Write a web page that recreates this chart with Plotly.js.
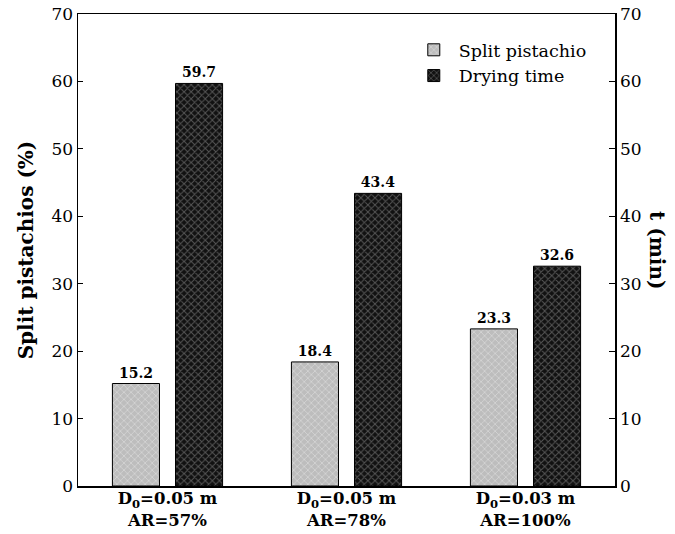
<!DOCTYPE html>
<html>
<head>
<meta charset="utf-8">
<script src="https://cdn.plot.ly/plotly-3.0.1.min.js"></script>
<style>html,body{margin:0;padding:0;background:#fff;}#chart{width:675px;height:534px;}</style>
</head>
<body>
<div id="chart"></div>
<script>
var categories = ["D<sub>0</sub>=0.05 m<br>AR=57%", "D<sub>0</sub>=0.05 m<br>AR=78%", "D<sub>0</sub>=0.03 m<br>AR=100%"];
var splitPistachio = [15.2, 18.4, 23.3];
var dryingTime = [59.7, 43.4, 32.6];
var tickVals = [0, 10, 20, 30, 40, 50, 60, 70];

var FONT = "DejaVu Serif, Liberation Serif, serif";

var traces = [
  {
    type: "bar", name: "Split pistachio", x: categories, y: splitPistachio,
    yaxis: "y", offsetgroup: "1",
    text: splitPistachio.map(function(v){return v.toFixed(1);}),
    textposition: "outside", cliponaxis: false,
    textfont: {family: FONT, size: 14, color: "#000", weight: "bold"},
    marker: {color: "#c4c4c4", line: {color: "#000", width: 1},
      pattern: {shape: "x", bgcolor: "#bdbdbd", fgcolor: "#ededed", size: 5, solidity: 0.3, fillmode: "overlay"}}
  },
  {
    type: "bar", name: "Drying time", x: categories, y: dryingTime,
    yaxis: "y2", offsetgroup: "2",
    text: dryingTime.map(function(v){return v.toFixed(1);}),
    textposition: "outside", cliponaxis: false,
    textfont: {family: FONT, size: 14, color: "#000", weight: "bold"},
    marker: {color: "#1a1a1a", line: {color: "#000", width: 1},
      pattern: {shape: "x", bgcolor: "#111", fgcolor: "#9a9a9a", size: 5, solidity: 0.35, fillmode: "overlay"}}
  }
];

var layout = {
  width: 675, height: 534,
  margin: {l: 78, r: 60, t: 14, b: 48},
  paper_bgcolor: "#fff", plot_bgcolor: "#fff",
  font: {family: FONT, size: 16, color: "#000"},
  barmode: "group", bargap: 0.295, bargroupgap: 0.254,
  showlegend: true,
  legend: {x: 0.616, y: 0.962, xanchor: "left", yanchor: "top", bgcolor: "rgba(0,0,0,0)",
    font: {family: FONT, size: 17.5, color: "#000"}, tracegroupgap: 0, itemwidth: 40},
  xaxis: {
    showline: true, linecolor: "#000", linewidth: 1.5, mirror: true,
    ticks: "", showgrid: false, zeroline: false, ticklabelstandoff: -3,
    tickfont: {family: FONT, size: 16.5, color: "#000", weight: "bold"}
  },
  yaxis: {
    range: [0, 70], tickvals: tickVals, showline: true, linecolor: "#000", linewidth: 1.5,
    ticks: "inside", ticklen: 5, tickcolor: "#000", showgrid: false, zeroline: false,
    tickfont: {family: FONT, size: 17, color: "#000"},
    title: {text: "Split pistachios (%)", font: {family: FONT, size: 20, color: "#000", weight: "bold"}, standoff: 12}
  },
  yaxis2: {
    range: [0, 70], tickvals: tickVals, overlaying: "y", side: "right",
    showline: true, linecolor: "#000", linewidth: 1.5,
    ticks: "inside", ticklen: 6, tickcolor: "#000", showgrid: false, zeroline: false,
    tickfont: {family: FONT, size: 17, color: "#000"}
  },
  annotations: [{
    text: "t (min)", xref: "paper", yref: "paper", x: 1.0, y: 0.5, xanchor: "center", yanchor: "middle",
    xshift: 42, textangle: 90, showarrow: false,
    font: {family: FONT, size: 20, color: "#000", weight: "bold"}
  }]
};

Plotly.newPlot("chart", traces, layout, {displayModeBar: false, staticPlot: true});
</script>
</body>
</html>
